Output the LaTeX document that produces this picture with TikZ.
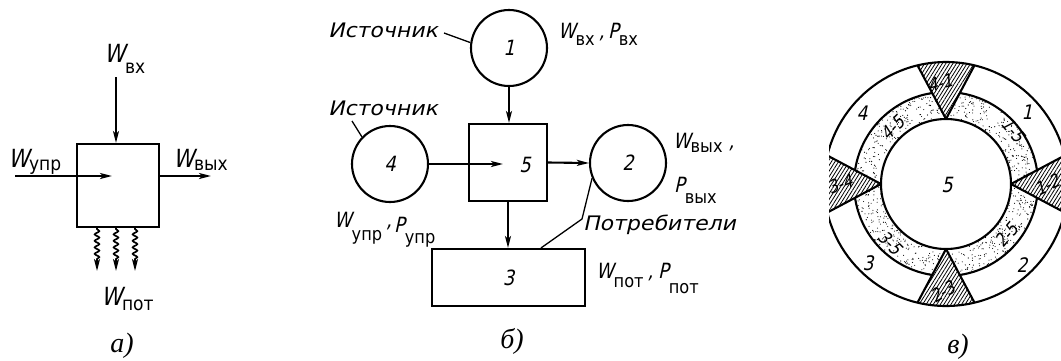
\documentclass[tikz,border=0pt]{standalone}
\usepackage{fontspec}
\newfontfamily\tecsl{DejaVu Sans}[FakeSlant=0.22,FakeStretch=0.85]
\newfontfamily\tecwide{DejaVu Sans}[FakeSlant=0.22,FakeStretch=1.1]
\newfontfamily\tecup{DejaVu Sans}[FakeStretch=0.9]
\newfontfamily\capf{Liberation Serif}
\usetikzlibrary{arrows.meta,decorations.pathmorphing,patterns.meta,calc}
\newcommand\fs[1]{\fontsize{#1}{#1}\selectfont}
\newcommand\Lab[5]{{\fs{#3}\tecsl #1}\raisebox{-#5}{\fs{#4}\tecup #2}}
\begin{document}
\begin{tikzpicture}[x=1pt,y=-1pt,line width=2.1pt,
  arr/.style={-{Stealth[length=12pt,width=6pt,inset=3pt]}},
  blk/.style={draw,rectangle,inner sep=0},
  circ/.style={draw,circle,minimum size=76pt,inner sep=0,font=\fs{21pt}\tecsl},
  lbl/.style={inner sep=0,anchor=base west},
  word/.style={inner sep=0,anchor=base west,font=\fs{20pt}\tecwide},
  capt/.style={inner sep=0,font=\fs{28pt}\capf\itshape},
  lead/.style={line width=1.3pt},
  wavy/.style={decorate,decoration={snake,amplitude=2.3pt,segment length=6.5pt,post length=10pt,pre length=1pt}},
  num/.style={inner sep=0,font=\fs{20pt}\tecsl},
  pair/.style={inner sep=0,font=\fs{18pt}\tecsl},
]
\fill[white] (0,0) rectangle (1061,360);
\useasboundingbox (0,0) rectangle (1061,360);

% ---------- panel a ----------
\node[blk,minimum width=82pt,minimum height=83pt] (na) at (118,185.5) {};
\coordinate (ta) at (116,77);
\draw[arr] (ta) -- (ta |- na.north);
\coordinate (la) at (15,176);
\coordinate (lt) at (112,176);
\draw[arr] (la) -- (lt);
\coordinate (ra) at (211,176);
\draw[arr] (na.east |- ra) -- (ra);
\foreach \x/\n in {97/1,116/2,135/3}{
  \coordinate (w\n) at (\x,271);
  \draw[arr,wavy,line width=1.7pt] (w\n |- na.south) -- (w\n);
}
\node[lbl] (awin) at (103,62) {\Lab{W}{вх}{25pt}{19pt}{11pt}};
\node[lbl] (awupr) at (7,167) {\Lab{W}{упр}{25pt}{19pt}{3pt}};
\node[lbl] (awout) at (172,167) {\Lab{W}{вых}{25pt}{19pt}{3pt}};
\node[lbl] (awpot) at (100,305) {\Lab{W}{пот}{25pt}{19pt}{5pt}};
\node[capt] (capa) at (122,346) {а)};

% ---------- panel b ----------
\node[circ] (c1) at (509,48) {1};
\node[circ] (c4) at (390,164) {4};
\node[circ] (c2) at (628,163) {2};
\node[blk,minimum width=78pt,minimum height=77pt] (b5) at (508,162.5) {};
\node[inner sep=0,font=\fs{21pt}\tecsl] (n5) at (525,165) {5};
\node[blk,minimum width=153pt,minimum height=57pt,font=\fs{21pt}\tecsl] (b3) at (508.5,277.5) {3};

\draw[arr] (c1.south) -- (c1.south |- b5.north);
\coordinate (t5) at (503,164);
\draw[arr] (c4.east) -- (t5);
\draw[arr] (b5.east) -- (c2.west);
\draw[arr] (b5.south) -- (b5.south |- b3.north);

\node[word] (src1) at (327,37) {Источник};
\node[word] (src2) at (327,115) {Источник};
\node[word] (cons) at (582,230) {Потребители};
\coordinate (l1) at (444,33);
\draw[lead] (l1) -- (c1.172);
\coordinate (l2) at (352,121);
\draw[lead] (l2) -- (c4.136);
\coordinate (l3) at (582,219);
\draw[lead] (c2.203) -- (l3) -- ($(b3.north)+(32.5,0)$);

\node[lbl] (bwin) at (557,38) {\Lab{W}{вх}{21pt}{18pt}{7pt}\hspace{4pt}{\fs{21pt}\tecsl,}};
\node[lbl] (bpin) at (607,38) {\Lab{P}{вх}{21pt}{18pt}{7pt}};
\node[lbl] (bwout) at (672,148) {\Lab{W}{вых}{21pt}{18pt}{4pt}\hspace{6pt}{\fs{21pt}\tecsl,}};
\node[lbl] (bpout) at (673,192) {\Lab{P}{вых}{21pt}{18pt}{11pt}};
\node[lbl] (bwupr) at (333,227) {\Lab{W}{упр}{21pt}{18pt}{13pt}\hspace{4pt}{\fs{21pt}\tecsl,}};
\node[lbl] (bpupr) at (393,232) {\Lab{P}{упр}{21pt}{18pt}{11pt}};
\node[lbl] (bwpot) at (595,278) {\Lab{W}{пот}{21pt}{18pt}{9pt}\hspace{4pt}{\fs{21pt}\tecsl,}};
\node[lbl] (bppot) at (657,278) {\Lab{P}{пот}{21pt}{18pt}{15pt}};
\node[capt] (capb) at (512,341) {б)};

% ---------- panel v ----------
\begin{scope}[shift={(946,184)},x=1pt,y=1pt]
  \clip (-117,-176) rectangle (115,184);
  \pgfmathsetseed{12}
  \foreach \k in {1,...,850}{
    \pgfmathsetmacro\ang{360*rnd}
    \pgfmathsetmacro\rad{sqrt(4225+4239*rnd)}
    \fill (\ang:\rad) circle[radius=0.55pt];
  }
  \draw (0,0) circle[radius=92];
  \foreach \t in {90,0,-90,180}{
    \fill[white] (\t:65) -- ({\t-13.5}:122) arc[start angle={\t-13.5},end angle={\t+13.5},radius=122] -- cycle;
    \path[pattern={Lines[angle=58,distance=3pt,line width=0.8pt]}] (\t:65) -- ({\t-13.5}:122) arc[start angle={\t-13.5},end angle={\t+13.5},radius=122] -- cycle;
    \draw ({\t-13.5}:122) -- (\t:65) -- ({\t+13.5}:122);
  }
  \draw[fill=white] (0,0) circle[radius=65];
  \draw (0,0) circle[radius=122];
  \node[inner sep=0,font=\fs{21pt}\tecsl] (v5) at (1,-1) {5};
  \node[num] (v1) at (81,72) {1};
  \node[num] (v2) at (76,-81) {2};
  \node[num] (v3) at (-78,-79) {3};
  \node[num] (v4) at (-84,71) {4};
  \node[pair,rotate=-50] (v15) at (67,54) {1-5};
  \node[pair,rotate=50] (v25) at (61,-51) {2-5};
  \node[pair,rotate=-45] (v35) at (-56,-59) {3-5};
  \node[pair,rotate=45] (v45) at (-53,56) {4-5};
  \node[pair,rotate=15] (v41) at (-6,101) {4-1};
  \node[pair,rotate=25] (v12) at (101,-1) {1-2};
  \node[pair,rotate=30] (v23) at (-3,-108) {2-3};
  \node[pair,rotate=20] (v34) at (-106,0) {3-4};
\end{scope}
\node[capt] (capc) at (958,347) {в)};
\end{tikzpicture}
\end{document}
